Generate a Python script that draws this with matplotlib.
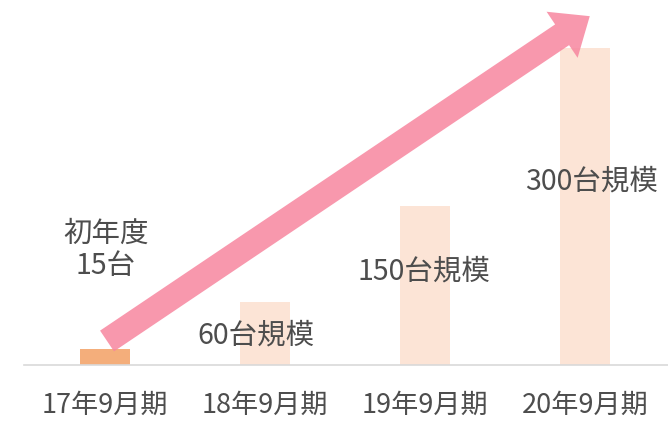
import matplotlib.pyplot as plt
import numpy as np

plt.rcParams['font.family'] = ['Noto Sans CJK JP', 'DejaVu Sans']

# data
periods = ["17年9月期", "18年9月期", "19年9月期", "20年9月期"]
units = [15, 60, 150, 300]
bar_labels = ["初年度\n15台", "60台規模", "150台規模", "300台規模"]
bar_colors = ["#F4AE7B", "#FCE4D6", "#FCE4D6", "#FCE4D6"]

fig = plt.figure(figsize=(6.68, 4.25), dpi=100)
ax = fig.add_axes([0, 60 / 425, 1, 365 / 425])

x = np.arange(len(periods))
ax.bar(x, units, width=0.31, color=bar_colors, zorder=1)

ax.set_xlim(-0.656, 3.519)
ax.set_ylim(0, 345.3)

# labels beside the bars
label_pos = [(0.006, 108.8), (0.944, 28.3), (1.994, 88.9), (3.044, 174.0)]
for (lx, ly), txt in zip(label_pos, bar_labels):
    ax.text(lx, ly, txt, ha="center", va="center", fontsize=20.5,
            color="#4D4D4D", linespacing=1.1, zorder=3)

# growth arrow
ax.annotate("", xy=(3.03, 330), xytext=(0.013, 22.7),
            arrowprops=dict(arrowstyle="simple,head_length=24,head_width=40,tail_width=18",
                            mutation_scale=1, color="#F7869F", alpha=0.85,
                            lw=0, shrinkA=0, shrinkB=0), zorder=2)

for s in ["top", "right", "left"]:
    ax.spines[s].set_visible(False)
ax.spines["bottom"].set_color("#D9D9D9")
ax.spines["bottom"].set_linewidth(1.2)
ax.spines["bottom"].set_bounds(-0.506, 3.519)

ax.set_xticks(x)
ax.set_xticklabels(periods, fontsize=19.5, color="#4D4D4D")
ax.tick_params(axis="x", length=0, pad=19)
ax.set_yticks([])

plt.savefig("out.png", dpi=100)
